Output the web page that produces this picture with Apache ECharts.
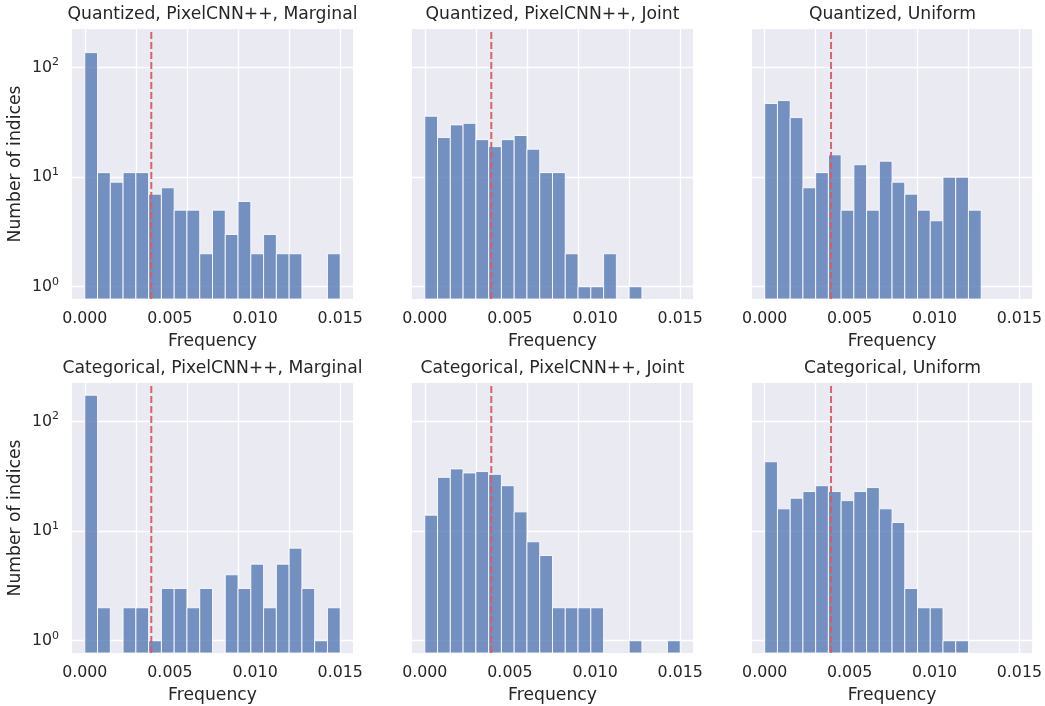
<!DOCTYPE html>
<html>
<head>
<meta charset="utf-8">
<script src="https://cdn.jsdelivr.net/npm/echarts@6/dist/echarts.min.js"></script>
<style>
  html, body { margin: 0; padding: 0; background: #ffffff; }
  #chart { width: 1045px; height: 706px; }
</style>
</head>
<body>
<div id="chart"></div>
<script>
// ---- Data ----
const binEdges = [0, 0.00075, 0.0015, 0.00225, 0.003, 0.00375, 0.0045, 0.00525, 0.006, 0.00675,
                  0.0075, 0.00825, 0.009, 0.00975, 0.0105, 0.01125, 0.012, 0.01275, 0.0135, 0.01425, 0.015];
const panelTitles = [
  'Quantized, PixelCNN++, Marginal',
  'Quantized, PixelCNN++, Joint',
  'Quantized, Uniform',
  'Categorical, PixelCNN++, Marginal',
  'Categorical, PixelCNN++, Joint',
  'Categorical, Uniform'
];
const countsQuantMarginal = [137, 11, 9, 11, 11, 7, 8, 5, 5, 2, 5, 3, 6, 2, 3, 2, 2, 0, 0, 2];
const countsQuantJoint    = [36, 23, 30, 31, 22, 19, 22, 24, 18, 11, 11, 2, 1, 1, 2, 0, 1, 0, 0, 0];
const countsQuantUniform  = [47, 50, 35, 8, 11, 16, 5, 13, 5, 14, 9, 7, 5, 4, 10, 10, 5, 0, 0, 0];
const countsCatMarginal   = [174, 2, 0, 2, 2, 1, 3, 3, 2, 3, 0, 4, 3, 5, 2, 5, 7, 3, 1, 2];
const countsCatJoint      = [14, 31, 37, 34, 35, 33, 26, 15, 8, 6, 2, 2, 2, 2, 0, 0, 1, 0, 0, 1];
const countsCatUniform    = [43, 16, 20, 23, 26, 23, 19, 23, 25, 16, 12, 3, 2, 2, 1, 1, 0, 0, 0, 0];
const uniformThreshold = 1 / 256;
const xTickValues = [0, 0.005, 0.010, 0.015];
const xTickLabels = ['0.000', '0.005', '0.010', '0.015'];
const yTickExponents = [0, 1, 2];
const xLabel = 'Frequency';
const yLabel = 'Number of indices';

const allCounts = [countsQuantMarginal, countsQuantJoint, countsQuantUniform,
                   countsCatMarginal, countsCatJoint, countsCatUniform];

// ---- Layout / style ----
const FONT = 'DejaVu Sans';
const TEXT = '#262626';
const BG = '#eaeaf2';
const X_MIN = -0.00075, X_MAX = 0.01575;
const Y_MIN = 0.773, Y_MAX = 225;
const lefts = [72, 412, 752];
const tops = [29, 383];
const GW = 281, GH = 270;
const TICK_FS = 15.8, LABEL_FS = 17.2;

const chart = echarts.init(document.getElementById('chart'), null, { renderer: 'canvas' });

const grids = [], xAxes = [], yAxes = [], series = [], graphics = [];

for (let p = 0; p < 6; p++) {
  const col = p % 3, row = Math.floor(p / 3);
  grids.push({
    left: lefts[col], top: tops[row], width: GW, height: GH,
    show: true, backgroundColor: BG, borderWidth: 0, containLabel: false
  });
  xAxes.push({
    gridIndex: p, type: 'value', min: X_MIN, max: X_MAX,
    axisLine: { show: false }, axisTick: { show: false },
    splitLine: {
      show: true, showMinLine: false, showMaxLine: false,
      lineStyle: { color: '#ffffff', width: 1.3 }
    },
    axisLabel: {
      show: true,
      customValues: xTickValues,
      color: TEXT, fontFamily: FONT, fontSize: TICK_FS, margin: 12,
      formatter: function (v) {
        for (let i = 0; i < xTickValues.length; i++) {
          if (Math.abs(v - xTickValues[i]) < 1e-9) return xTickLabels[i];
        }
        return '';
      }
    },
    axisPointer: { show: false },
    name: xLabel, nameLocation: 'middle', nameGap: 34,
    nameTextStyle: { color: TEXT, fontFamily: FONT, fontSize: LABEL_FS }
  });
  yAxes.push({
    gridIndex: p, type: 'log', logBase: 10, min: Y_MIN, max: Y_MAX,
    axisLine: { show: false }, axisTick: { show: false },
    splitLine: {
      show: true, showMinLine: false, showMaxLine: false,
      lineStyle: { color: '#ffffff', width: 1.3 }
    },
    minorSplitLine: { show: false },
    axisLabel: {
      show: col === 0, showMinLabel: false, showMaxLabel: false,
      margin: 13, color: TEXT, fontFamily: FONT, fontSize: TICK_FS,
      formatter: function (v) {
        const e = Math.log10(v);
        for (let i = 0; i < yTickExponents.length; i++) {
          if (Math.abs(e - yTickExponents[i]) < 1e-6) return '{b|10}{s|' + yTickExponents[i] + '}';
        }
        return '';
      },
      rich: {
        b: { fontSize: TICK_FS, fontFamily: FONT, color: TEXT, lineHeight: 21 },
        s: { fontSize: 11, fontFamily: FONT, color: TEXT, lineHeight: 11, verticalAlign: 'top' }
      }
    },
    name: col === 0 ? yLabel : '', nameLocation: 'middle', nameGap: 48,
    nameTextStyle: { color: TEXT, fontFamily: FONT, fontSize: LABEL_FS }
  });

  const counts = allCounts[p];
  const data = [];
  for (let i = 0; i < counts.length; i++) {
    if (counts[i] > 0) data.push([binEdges[i], binEdges[i + 1], counts[i]]);
  }
  series.push({
    type: 'custom', xAxisIndex: p, yAxisIndex: p,
    encode: { x: [0, 1], y: 2 },
    data: data, silent: true, animation: false, clip: true, z: 2,
    renderItem: function (params, api) {
      const a = api.coord([api.value(0), api.value(2)]);
      const b = api.coord([api.value(1), api.value(2)]);
      const cs = params.coordSys;
      const bottom = cs.y + cs.height;
      return {
        type: 'rect',
        shape: { x: a[0], y: a[1], width: b[0] - a[0], height: bottom - a[1] },
        style: { fill: 'rgba(76,114,176,0.75)', stroke: 'rgba(255,255,255,0.85)', lineWidth: 1 }
      };
    }
  });
  // vertical dashed reference line at the uniform frequency 1/256
  series.push({
    type: 'line', xAxisIndex: p, yAxisIndex: p, z: 5,
    data: [[uniformThreshold, Y_MIN], [uniformThreshold, Y_MAX]],
    symbol: 'none', silent: true, animation: false,
    lineStyle: { color: '#d65c63', width: 2, type: [7, 3], opacity: 0.95 }
  });

  graphics.push({
    type: 'text', x: lefts[col] + GW / 2, y: tops[row] - 23,
    style: { text: panelTitles[p], fontSize: LABEL_FS, fontFamily: FONT, fill: TEXT, align: 'center', verticalAlign: 'top' }
  });
}

chart.setOption({
  backgroundColor: '#ffffff',
  animation: false,
  textStyle: { fontFamily: FONT },
  grid: grids, xAxis: xAxes, yAxis: yAxes, series: series,
  graphic: graphics
});
</script>
</body>
</html>
